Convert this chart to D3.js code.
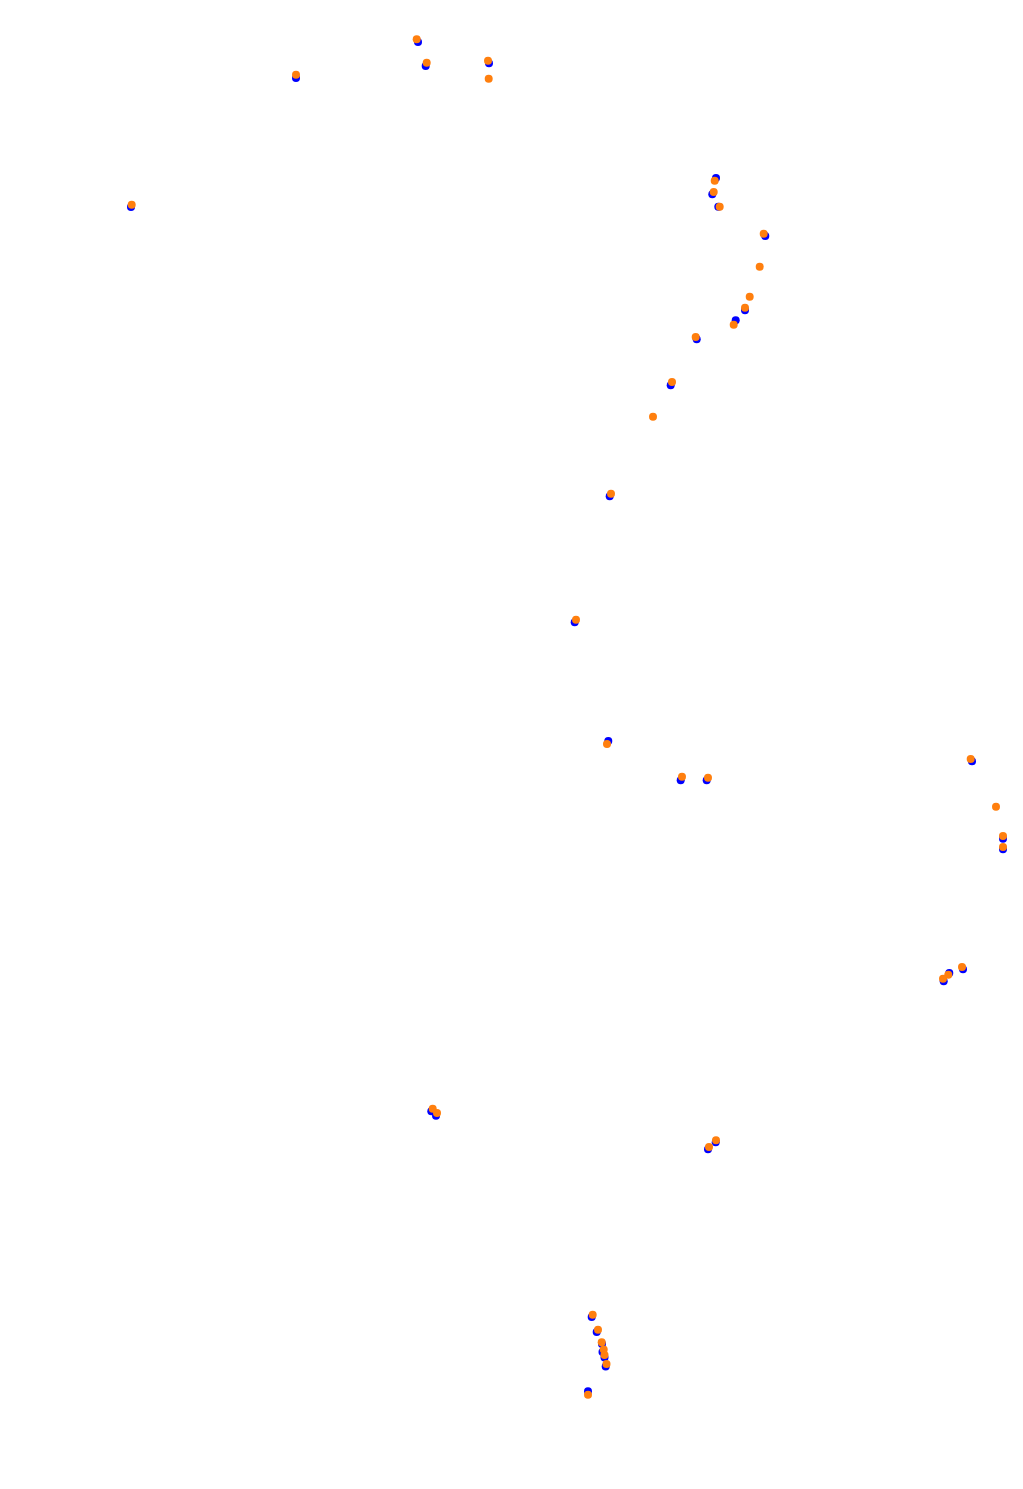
<!DOCTYPE html>
<html>
<head>
<meta charset="utf-8">
<script src="https://cdn.jsdelivr.net/npm/d3@7"></script>
<style>
html,body{margin:0;padding:0;background:#fff;}
svg{display:block;}
</style>
</head>
<body>
<svg id="chart" width="1023" height="1489"></svg>
<script>
// Series 1 (blue) positions in plot units
const blueX = [418,425.7,489,296,131,716,712.3,718.3,765.3,745,735.7,696.7,670.7,609.7,574.7,608.3,680.7,706.7,972,1003,1003,963,949.3,943.7,431.3,436,715.7,708,591.7,596.7,602,602.5,604.5,605.7,588];
const blueY = [42,66,63.3,78,207,178,194.3,206.7,236,310.3,320.3,339.3,385.3,496.3,622.3,741,780.3,780.3,761.3,838.7,849.3,969.3,973,981.3,1111.3,1115.7,1142.3,1149.3,1317,1332,1344,1352,1357.5,1366.5,1391.3];
// Series 2 (orange) positions in plot units
const orangeX = [416.7,426.7,488,488.7,296,131.7,714.7,713.7,719.7,763.7,759.7,749.7,745,733.7,695.7,672,653,611,576,607,682,708,970.7,996,1003,1003,962,948.3,943,432.7,437,716,709,592.7,598,601.7,603.7,604.5,606.5,588];
const orangeY = [39.3,62.7,60.7,78.7,74.7,204.7,180.7,192,206.7,233.7,266.7,296.7,307.7,324.7,337,382,416.7,493.7,619.7,744,776.7,777.7,759,806.7,836,847,967,974.7,978.7,1108.7,1113,1140.3,1147,1314.7,1329.7,1342.3,1349.5,1355,1364,1394.7];

const W = 1023, H = 1489;
const x = d3.scaleLinear().domain([0, 1023]).range([0, W]);
const y = d3.scaleLinear().domain([0, 1489]).range([0, H]);
const svg = d3.select("#chart");

const blue = blueX.map((v, i) => [v, blueY[i]]);
const orange = orangeX.map((v, i) => [v, orangeY[i]]);

svg.append("g").selectAll("circle").data(blue).join("circle")
  .attr("cx", d => x(d[0])).attr("cy", d => y(d[1])).attr("r", 4)
  .attr("fill", "#0000ff");
svg.append("g").selectAll("circle").data(orange).join("circle")
  .attr("cx", d => x(d[0])).attr("cy", d => y(d[1])).attr("r", 4)
  .attr("fill", "#ff7f0e");
</script>
</body>
</html>
